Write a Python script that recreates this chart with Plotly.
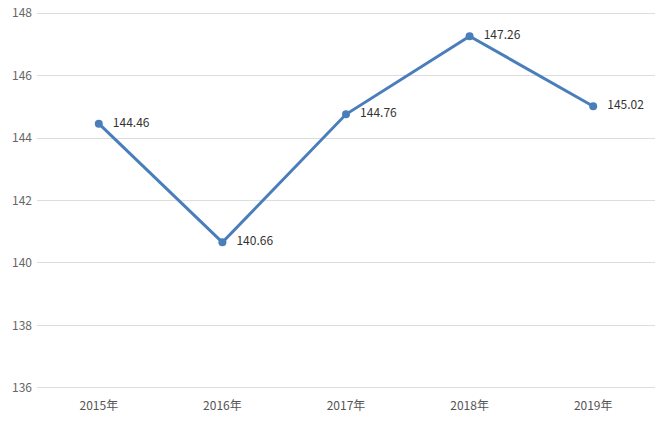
import plotly.graph_objects as go

years = ["2015年", "2016年", "2017年", "2018年", "2019年"]
values = [144.46, 140.66, 144.76, 147.26, 145.02]
labels = ["144.46", "140.66", "144.76", "147.26", "145.02"]
y_ticks = [136, 138, 140, 142, 144, 146, 148]

fig = go.Figure()
fig.add_trace(go.Scatter(
    x=years, y=values, mode="lines+markers+text",
    text=["   " + t for t in labels], textposition="middle right",
    textfont=dict(size=12, color="#333333", family="Noto Sans CJK SC"),
    line=dict(color="#4a7ebb", width=3),
    marker=dict(size=8, color="#4a7ebb"),
    cliponaxis=False, showlegend=False, hoverinfo="skip",
))
fig.update_layout(
    width=657, height=421,
    margin=dict(l=37, r=2, t=10, b=30, autoexpand=False),
    paper_bgcolor="white", plot_bgcolor="white",
    font=dict(family="Noto Sans CJK SC", size=12, color="#666666"),
    xaxis=dict(type="category", showgrid=False, showline=False, zeroline=False,
               ticks="", tickfont=dict(size=12, color="#555555"),
               range=[-0.5, 4.5], ticklabelstandoff=6),
    yaxis=dict(range=[135.9, 148.1], tickvals=y_ticks, showgrid=True,
               gridcolor="#dddddd", gridwidth=1, zeroline=False, showline=False,
               ticks="", tickfont=dict(size=12, color="#666666"),
               ticklabelstandoff=4, ticklabeloverflow="allow"),
)
fig.write_html("out.html", config={"displayModeBar": False},
               post_script="document.body.style.margin='0';document.body.style.overflow='hidden';")
